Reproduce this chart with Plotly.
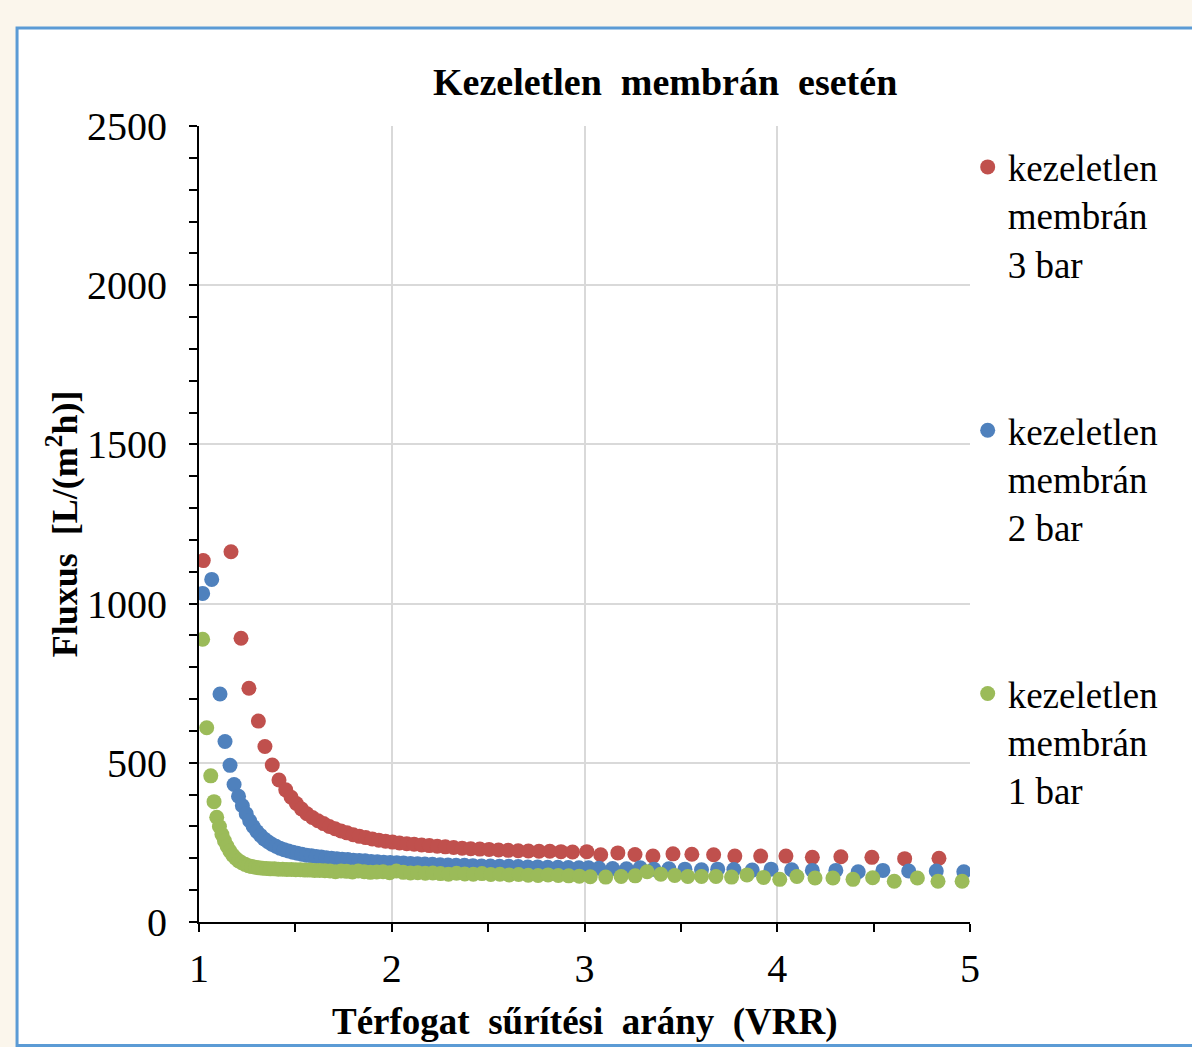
import plotly.graph_objects as go

# ---- data ----
red_x = [1.022, 1.166, 1.218, 1.259, 1.308, 1.342, 1.380, 1.415, 1.450, 1.478, 1.505, 1.532, 1.560, 1.588,
         1.617, 1.646, 1.676, 1.706, 1.737, 1.768, 1.800, 1.832, 1.865, 1.899, 1.933, 1.968, 2.004, 2.040,
         2.078, 2.116, 2.155, 2.195, 2.236, 2.278, 2.321, 2.365, 2.410, 2.457, 2.505, 2.554, 2.604, 2.656,
         2.709, 2.764, 2.820, 2.878, 2.938, 3.012, 3.084, 3.173, 3.262, 3.355, 3.459, 3.557, 3.670, 3.780,
         3.914, 4.045, 4.182, 4.330, 4.491, 4.661, 4.839]
red_y = [1135, 1163, 891, 734, 631, 551, 493, 446, 415, 392, 372, 355, 340, 328,
         318, 309, 300, 293, 286, 280, 274, 269, 265, 261, 257, 254, 251, 248,
         246, 244, 242, 240, 238, 236, 234, 232, 230, 229, 228, 226, 225, 224,
         223, 222, 222, 221, 220, 221, 211, 217, 212, 207, 214, 213, 211, 207,
         207, 207, 203, 205, 203, 199, 200]

blue_x = [1.019, 1.066, 1.109, 1.135, 1.161, 1.182, 1.205, 1.225, 1.245, 1.263, 1.281, 1.300, 1.319, 1.338,
          1.358, 1.378, 1.399, 1.420, 1.442, 1.464, 1.487, 1.510, 1.534, 1.558, 1.583, 1.608, 1.634, 1.660,
          1.687, 1.715, 1.743, 1.772, 1.801, 1.831, 1.862, 1.893, 1.925, 1.958, 1.992, 2.026, 2.061, 2.097,
          2.134, 2.172, 2.211, 2.251, 2.292, 2.334, 2.377, 2.421, 2.466, 2.512, 2.559, 2.607, 2.656, 2.706,
          2.757, 2.809, 2.862, 2.916, 2.971, 3.021, 3.075, 3.146, 3.218, 3.289, 3.360, 3.438, 3.521, 3.607,
          3.691, 3.775, 3.870, 3.968, 4.075, 4.182, 4.304, 4.420, 4.548, 4.682, 4.825, 4.968]
blue_y = [1032, 1076, 716, 567, 492, 432, 395, 365, 340, 318, 300, 284, 272, 261,
          252, 244, 238, 232, 227, 223, 219, 216, 213, 210, 208, 206, 204, 202,
          200, 199, 197, 196, 194, 193, 192, 190, 189, 188, 187, 186, 185, 184,
          183, 182, 181, 180, 179, 178, 178, 177, 176, 176, 175, 175, 174, 173,
          173, 172, 172, 171, 170, 170, 169, 168, 167, 170, 166, 167, 166, 164,
          166, 165, 163, 166, 164, 162, 162, 158, 162, 160, 160, 158]

green_x = [1.019, 1.040, 1.061, 1.078, 1.092, 1.106, 1.119, 1.132, 1.146, 1.160, 1.175, 1.190, 1.206, 1.222,
           1.239, 1.256, 1.274, 1.292, 1.311, 1.330, 1.350, 1.370, 1.391, 1.412, 1.434, 1.456, 1.479, 1.502,
           1.526, 1.550, 1.575, 1.600, 1.626, 1.653, 1.680, 1.708, 1.737, 1.766, 1.796, 1.826, 1.857, 1.889,
           1.922, 1.955, 1.989, 2.024, 2.060, 2.097, 2.135, 2.174, 2.213, 2.253, 2.294, 2.336, 2.379, 2.423,
           2.468, 2.514, 2.561, 2.609, 2.658, 2.708, 2.759, 2.811, 2.864, 2.918, 2.973, 3.030, 3.110, 3.190,
           3.263, 3.325, 3.396, 3.468, 3.536, 3.607, 3.682, 3.763, 3.843, 3.929, 4.013, 4.102, 4.196, 4.289,
           4.393, 4.495, 4.607, 4.727, 4.834, 4.959]
green_y = [888, 610, 459, 378, 329, 300, 275, 255, 238, 223, 210, 200, 192, 186,
           181, 177, 174, 172, 170, 169, 168, 167, 167, 166, 166, 165, 165, 164,
           164, 163, 163, 162, 162, 161, 160, 158, 160, 159, 157, 160, 158, 156,
           157, 158, 155, 160, 156, 154, 155, 153, 154, 152, 150, 153, 151, 150,
           152, 149, 150, 148, 149, 147, 146, 148, 146, 145, 144, 142, 141, 143,
           145, 158, 150, 146, 143, 143, 143, 141, 148, 140, 134, 143, 138, 138,
           134, 139, 128, 138, 128, 128]

series_names = ["kezeletlen<br>membrán<br>3 bar",
                "kezeletlen<br>membrán<br>2 bar",
                "kezeletlen<br>membrán<br>1 bar"]
series_colors = ["#c0504d", "#4f81bd", "#9bbb59"]

title_text = "Kezeletlen  membrán  esetén"
x_title = "Térfogat  sűrítési  arány  (VRR)"
y_title = "Fluxus  [L/(m<sup>2</sup>h)]"

SERIF = "Liberation Serif, Times New Roman, serif"

fig = go.Figure()
for i, (xs, ys) in enumerate([(red_x, red_y), (blue_x, blue_y), (green_x, green_y)]):
    fig.add_trace(go.Scatter(
        x=xs, y=ys, mode="markers", name=series_names[i],
        legendgroup=f"g{i}",
        marker=dict(size=15, color=series_colors[i], line=dict(width=0)),
    ))

axis_common = dict(
    showline=True, linecolor="black", linewidth=2,
    showgrid=True, gridcolor="#d9d9d9", gridwidth=2,
    zeroline=False,
    ticks="outside", ticklen=8, tickwidth=2, tickcolor="black",
    tickfont=dict(family=SERIF, size=40, color="black"),
)

fig.update_xaxes(range=[1, 5], dtick=1, tick0=1,
                 minor=dict(dtick=0.5, ticks="outside", ticklen=8, tickwidth=2,
                            tickcolor="black", showgrid=False),
                 ticklabelstandoff=2, **axis_common)
fig.update_yaxes(range=[0, 2500], dtick=500,
                 minor=dict(dtick=100, ticks="outside", ticklen=8, tickwidth=2,
                            tickcolor="black", showgrid=False),
                 ticklabelstandoff=14, **axis_common)

fig.update_layout(
    width=1192, height=1047, autosize=False,
    margin=dict(l=199, r=222, t=126, b=125),
    paper_bgcolor="#fbf6ec", plot_bgcolor="white",
    showlegend=True,
    legend=dict(x=0.997, y=0.987, xanchor="left", yanchor="top",
                font=dict(family=SERIF, size=37, color="black"),
                tracegroupgap=116, valign="top", bgcolor="rgba(0,0,0,0)"),
    shapes=[dict(type="rect", xref="paper", yref="paper",
                 x0=-0.236, x1=1.31, y0=-0.155, y1=1.123,
                 fillcolor="white", line=dict(color="#5b9bd5", width=3), layer="below")],
    annotations=[
        dict(text=f"<b>{title_text}</b>", xref="paper", yref="paper", x=0.604, y=1.055,
             showarrow=False, font=dict(family=SERIF, size=38, color="black"),
             xanchor="center", yanchor="middle"),
        dict(text=f"<b>{x_title}</b>", xref="paper", yref="paper", x=0.5006, y=-0.1256,
             showarrow=False, font=dict(family=SERIF, size=37, color="black"),
             xanchor="center", yanchor="middle"),
        dict(text=f"<b>{y_title}</b>", xref="paper", yref="paper", x=-0.1777, y=0.501,
             showarrow=False, textangle=-90, font=dict(family=SERIF, size=36, color="black"),
             xanchor="center", yanchor="middle"),
    ],
)

fig.write_html("out.html")
